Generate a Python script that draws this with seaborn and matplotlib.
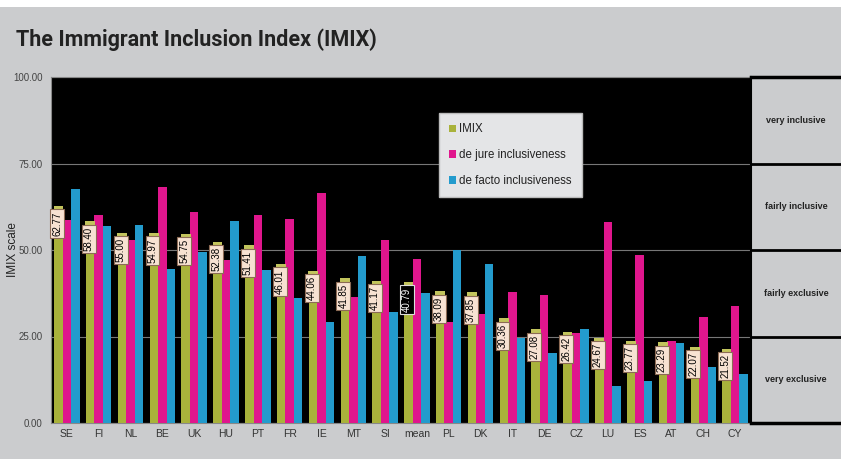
import pandas as pd
import matplotlib.pyplot as plt
import seaborn as sns
from matplotlib.patches import Rectangle

# --- data ---
countries = ['SE', 'FI', 'NL', 'BE', 'UK', 'HU', 'PT', 'FR', 'IE', 'MT', 'SI',
             'mean', 'PL', 'DK', 'IT', 'DE', 'CZ', 'LU', 'ES', 'AT', 'CH', 'CY']
imix = [62.77, 58.40, 55.00, 54.97, 54.75, 52.38, 51.41, 46.01, 44.06, 41.85, 41.17,
        40.79, 38.09, 37.85, 30.36, 27.08, 26.42, 24.67, 23.77, 23.29, 22.07, 21.52]
de_jure = [58.6, 60.0, 52.8, 68.2, 60.9, 47.1, 60.1, 59.0, 66.6, 36.4, 52.8,
           47.5, 29.3, 31.4, 38.0, 37.0, 25.9, 58.2, 48.5, 23.7, 30.7, 33.9]
de_facto = [67.6, 57.0, 57.3, 44.6, 49.3, 58.4, 44.1, 36.1, 29.3, 48.3, 32.2,
            37.5, 49.9, 46.0, 24.5, 20.2, 27.2, 10.7, 12.0, 23.2, 16.2, 14.1]
series_names = ['IMIX', 'de jure inclusiveness', 'de facto inclusiveness']
colors = ['#a9b23b', '#e0168d', '#239bcd']
yticks = [0, 25, 50, 75, 100]
bands = ['very exclusive', 'fairly exclusive', 'fairly inclusive', 'very inclusive']

df = pd.DataFrame({
    'country': countries * 3,
    'value': imix + de_jure + de_facto,
    'series': [s for s in series_names for _ in countries],
})

sns.set_theme(style='white')
plt.rcParams['font.family'] = ['Liberation Sans', 'DejaVu Sans']

bg = '#cbccce'
fig = plt.figure(figsize=(8.41, 4.59), dpi=100, facecolor=bg)
fig.patches.append(Rectangle((0, 1 - 7 / 459), 1, 7 / 459, transform=fig.transFigure,
                             facecolor='white', edgecolor='none', zorder=0))

ax = fig.add_axes([51 / 841, 1 - 423 / 459, 700 / 841, 346 / 459])
ax.set_facecolor('black')

sns.barplot(data=df, x='country', y='value', hue='series', order=countries,
            hue_order=series_names, palette=colors, saturation=1, width=0.8,
            linewidth=0, ax=ax, zorder=3)

ax.set_ylim(0, 100)
ax.set_yticks(yticks)
ax.set_yticklabels([f'{v:.2f}' for v in yticks], fontsize=7, color='#444444')
ax.tick_params(axis='x', labelsize=7.5, colors='#333333', length=0, pad=4)
ax.tick_params(axis='y', length=0, pad=6)
ax.set_xlabel('')
ax.set_ylabel('IMIX scale', fontsize=8.5, color='#222222')
ax.yaxis.set_label_coords(-0.045, 0.5)
ax.yaxis.grid(True, color='#777777', lw=0.8, zorder=1)
ax.set_axisbelow(True)
for side in ['left', 'top', 'bottom']:
    ax.spines[side].set_color('#888888')
    ax.spines[side].set_linewidth(0.8)
ax.spines['right'].set_visible(False)

# lighter top cap + value labels on the IMIX bars
for bar, val, name in zip(ax.containers[0], imix, countries):
    x0, w, h = bar.get_x(), bar.get_width(), bar.get_height()
    ax.add_patch(Rectangle((x0 - 0.02, h - 1.1), w + 0.04, 1.1,
                           facecolor='#c2c45c', edgecolor='none', zorder=4))
    if name == 'mean':
        fc, ec, tc = 'black', '#dddddd', 'white'
    else:
        fc, ec, tc = '#f7e2d2', '#8c6b55', 'black'
    ax.annotate(f'{val:.2f}', xy=(x0 + w / 2, h), xytext=(-1, -4),
                textcoords='offset points', rotation=90, ha='center', va='top',
                fontsize=7, color=tc, zorder=6,
                bbox=dict(boxstyle='square,pad=0.2', fc=fc, ec=ec, lw=0.8))

leg = ax.legend(loc='upper left', bbox_to_anchor=(0.554, 0.896), fontsize=8.3,
                frameon=True, fancybox=False, handlelength=0.6, handleheight=0.6,
                handletextpad=0.25, labelspacing=1.2, borderpad=0.9,
                borderaxespad=0)
leg.get_frame().set_facecolor('#e4e5e7')
leg.get_frame().set_edgecolor('#bbbbbb')
leg.get_frame().set_alpha(1)
leg.set_zorder(10)
for t in leg.get_texts():
    t.set_color('#222222')

# right-hand category panel
pax = fig.add_axes([751 / 841, 1 - 423 / 459, 90 / 841, 346 / 459])
pax.set_facecolor(bg)
pax.set_xlim(0, 1)
pax.set_ylim(0, 100)
pax.set_xticks([])
pax.set_yticks([])
for lvl in yticks[1:-1]:
    pax.axhline(lvl, color='black', lw=2)
for side in pax.spines.values():
    side.set_color('black')
    side.set_linewidth(1.5)
pax.spines['right'].set_visible(False)
pax.spines['top'].set_linewidth(2.5)
pax.spines['bottom'].set_linewidth(2.5)
for i, label in enumerate(bands):
    pax.text(0.5, yticks[i] + 12.5, label, ha='center', va='center',
             fontsize=6.5, fontweight='bold', color='#222222')

fig.text(16 / 841, 1 - 40 / 459, 'The Immigrant Inclusion Index (IMIX)',
         fontsize=15.5, fontweight='bold', color='#222222', va='center',
         family=['Roboto', 'DejaVu Sans'])

fig.savefig('out.png', dpi=100, facecolor=fig.get_facecolor())
